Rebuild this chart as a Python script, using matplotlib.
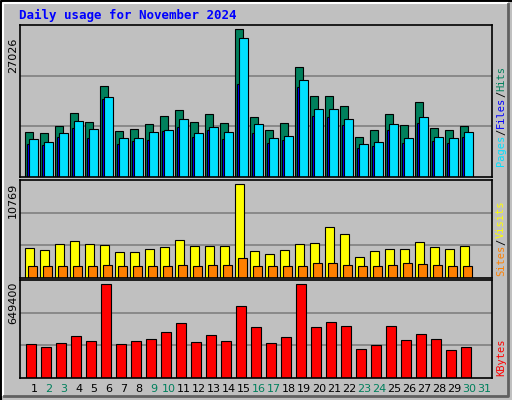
import matplotlib
matplotlib.use("Agg")
import matplotlib.pyplot as plt
import numpy as np

days = list(range(1, 32))
weekend = [2, 3, 9, 10, 16, 17, 23, 24, 30, 31]

hits = [8273, 8089, 9376, 11766, 10112, 16547, 8457, 8825, 9744, 11215, 12318, 10112, 11583, 9928, 27026,
        11031, 8641, 9928, 20040, 14708, 14708, 13053, 7354, 8641, 11583, 9560, 13789, 9009, 8641, 9376]
files = [6986, 6435, 8089, 10296, 8825, 14524, 7170, 7170, 8273, 8641, 10663, 8089, 9193, 8273, 25371,
         9744, 7170, 7538, 17650, 12502, 12502, 10663, 6067, 6435, 9744, 7170, 11031, 7354, 7170, 8273]
pages = [6100, 5800, 7300, 9000, 7200, 14300, 6000, 6500, 6700, 8400, 9200, 7300, 8500, 6900, 17000,
         8100, 6200, 6700, 16500, 11200, 11000, 9500, 5300, 5700, 8600, 6300, 9900, 6500, 6200, 7300]
visits = [3474, 3242, 3937, 4285, 3937, 3821, 3011, 3011, 3358, 3590, 4400, 3706, 3706, 3706, 10769,
          3127, 2779, 3242, 3937, 4053, 5790, 5095, 2432, 3127, 3358, 3358, 4169, 3590, 3358, 3706]
sites = [1390, 1390, 1390, 1390, 1390, 1505, 1390, 1390, 1390, 1390, 1505, 1390, 1505, 1505, 2316,
         1390, 1390, 1390, 1390, 1737, 1737, 1505, 1390, 1390, 1505, 1737, 1621, 1505, 1390, 1390]
kbytes = [237400, 216500, 244400, 293300, 258400, 649400, 237400, 258400, 272300, 321200, 377100, 251400,
          300300, 258400, 495800, 349100, 244400, 286300, 649400, 349100, 384100, 356100, 202500, 230400,
          356100, 265300, 307200, 272300, 195500, 216500]

W, H = 512, 400
fig = plt.figure(figsize=(W / 100, H / 100), dpi=100)
fig.patch.set_facecolor("#c0c0c0")
mono = "DejaVu Sans Mono"


def px_axes(x0, y0, x1, y1):
    ax = fig.add_axes([x0 / W, 1 - y1 / H, (x1 - x0) / W, (y1 - y0) / H])
    ax.set_facecolor("#c0c0c0")
    ax.set_xlim(0, (x1 - x0) / 15)
    ax.set_xticks([])
    ax.set_yticks([])
    for s in ax.spines.values():
        s.set_linewidth(1.2)
    return ax


def grid(ax, top):
    for f in (1 / 3, 2 / 3):
        ax.axhline(top * f, color="#808080", lw=1.2, zorder=0)


n = len(hits)
x = np.arange(n)
kw = dict(align="edge", edgecolor="black", linewidth=0.8)

# top panel
ax1 = px_axes(20, 25, 492, 177)
top1 = max(hits) * 151 / 147
ax1.set_ylim(0, top1)
grid(ax1, top1)
ax1.bar(x + 5 / 15, hits, width=8 / 15, color="#00805c", **kw)
ax1.bar(x + 6.5 / 15, pages, width=6 / 15, color="#0000ff", **kw)
ax1.bar(x + 9 / 15, files, width=9 / 15, color="#00e0ff", **kw)

# middle panel
ax2 = px_axes(20, 180, 492, 278)
top2 = max(visits) * 97 / 93
ax2.set_ylim(0, top2)
grid(ax2, top2)
ax2.bar(x + 5 / 15, visits, width=9 / 15, color="#ffff00", **kw)
ax2.bar(x + 8 / 15, sites, width=9 / 15, color="#ff8000", **kw)

# bottom panel
ax3 = px_axes(20, 280, 492, 378)
top3 = max(kbytes) * 97 / 93
ax3.set_ylim(0, top3)
grid(ax3, top3)
ax3.bar(x + 6 / 15, kbytes, width=10 / 15, color="#ff0000", **kw)

# day labels
for d in days:
    col = "#00805c" if d in weekend else "black"
    fig.text((20 + (d - 1) * 15 + 14) / W, 1 - 389 / H, str(d), color=col, fontsize=8,
             ha="center", va="center")

# max value labels
for y, lab in [(55, str(max(hits))), (200, str(max(visits))), (303, str(max(kbytes)))]:
    fig.text(13 / W, 1 - y / H, lab, rotation=90, fontsize=8, ha="center", va="center")

fig.text(19 / W, 1 - 15 / H, "Daily usage for November 2024", color="#0000ff", fontsize=9,
         fontweight="bold", family=mono, va="center")

CH = 0.6 * 7.5 * 100 / 72  # mono char height in px when rotated


def side(ybot, parts):
    y = ybot
    for txt, col in parts:
        fig.text(501 / W, 1 - y / H, txt, rotation=90, color=col, fontsize=7.5, family=mono,
                 ha="center", va="bottom")
        y -= len(txt) * CH


side(166, [("Pages", "#00e0ff"), ("/", "black"), ("Files", "#0000ff"), ("/", "black"), ("Hits", "#00805c")])
side(276, [("Sites", "#ff8000"), ("/", "black"), ("Visits", "#ffff00")])
side(376, [("KBytes", "#ff0000")])

# outer frame
frame = fig.add_axes([0, 0, 1, 1], facecolor="none")
frame.set_xlim(0, W)
frame.set_ylim(H, 0)
frame.axis("off")
frame.plot([1, 1, W - 1], [H - 1, 1, 1], color="black", lw=1.5)
frame.plot([3, 3, W - 5], [H - 5, 3, 3], color="white", lw=1.5)
frame.plot([W - 4, W - 4, 4], [4, H - 4, H - 4], color="#606060", lw=2)

fig.savefig("out.png", dpi=100)
